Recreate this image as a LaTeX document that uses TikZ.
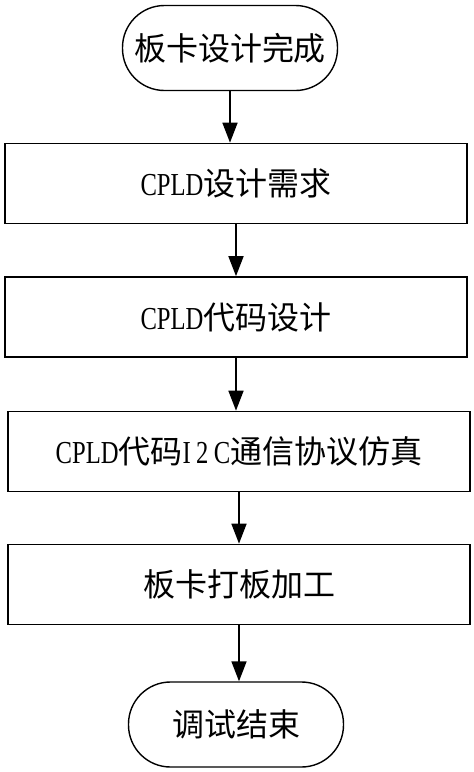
\documentclass[tikz,border=0pt]{standalone}
\usepackage{fontspec}
\setmainfont{Noto Sans CJK SC}
\newfontfamily\latn[FakeStretch=0.77]{Liberation Serif}
\usetikzlibrary{arrows.meta}

\begin{document}
\begin{tikzpicture}[x=1pt,y=-1pt,
  term/.style={draw,line width=1.4pt,rounded corners=42pt,minimum width=215pt,minimum height=85pt,font=\fontsize{32}{38}\selectfont},
  proc/.style={draw,line width=1.7pt,minimum width=462pt,minimum height=80pt,font=\fontsize{32}{38}\selectfont},
  flow/.style={-{Triangle[length=20pt,width=15pt]},line width=1.7pt}]
\useasboundingbox (0,0) rectangle (474,772);
\node[term] (S) at (230,48) {板卡设计完成};
\node[proc] (P1) at (236,183.5) {{\latn CPLD}设计需求};
\node[proc] (P2) at (236,317) {{\latn CPLD}代码设计};
\node[proc] (P3) at (239,451.5) {{\latn CPLD}代码{\latn I\,2\,C}通信协议仿真};
\node[proc] (P4) at (239,584.5) {板卡打板加工};
\node[term] (E) at (236,724.5) {调试结束};
\draw[flow] (S.south) -- (S.south |- P1.north);
\draw[flow] (P1.south) -- (P1.south |- P2.north);
\draw[flow] (P2.south) -- (P2.south |- P3.north);
\draw[flow] (P3.south) -- (P3.south |- P4.north);
\draw[flow] (P4.south) -- (P4.south |- E.north);
\end{tikzpicture}
\end{document}
